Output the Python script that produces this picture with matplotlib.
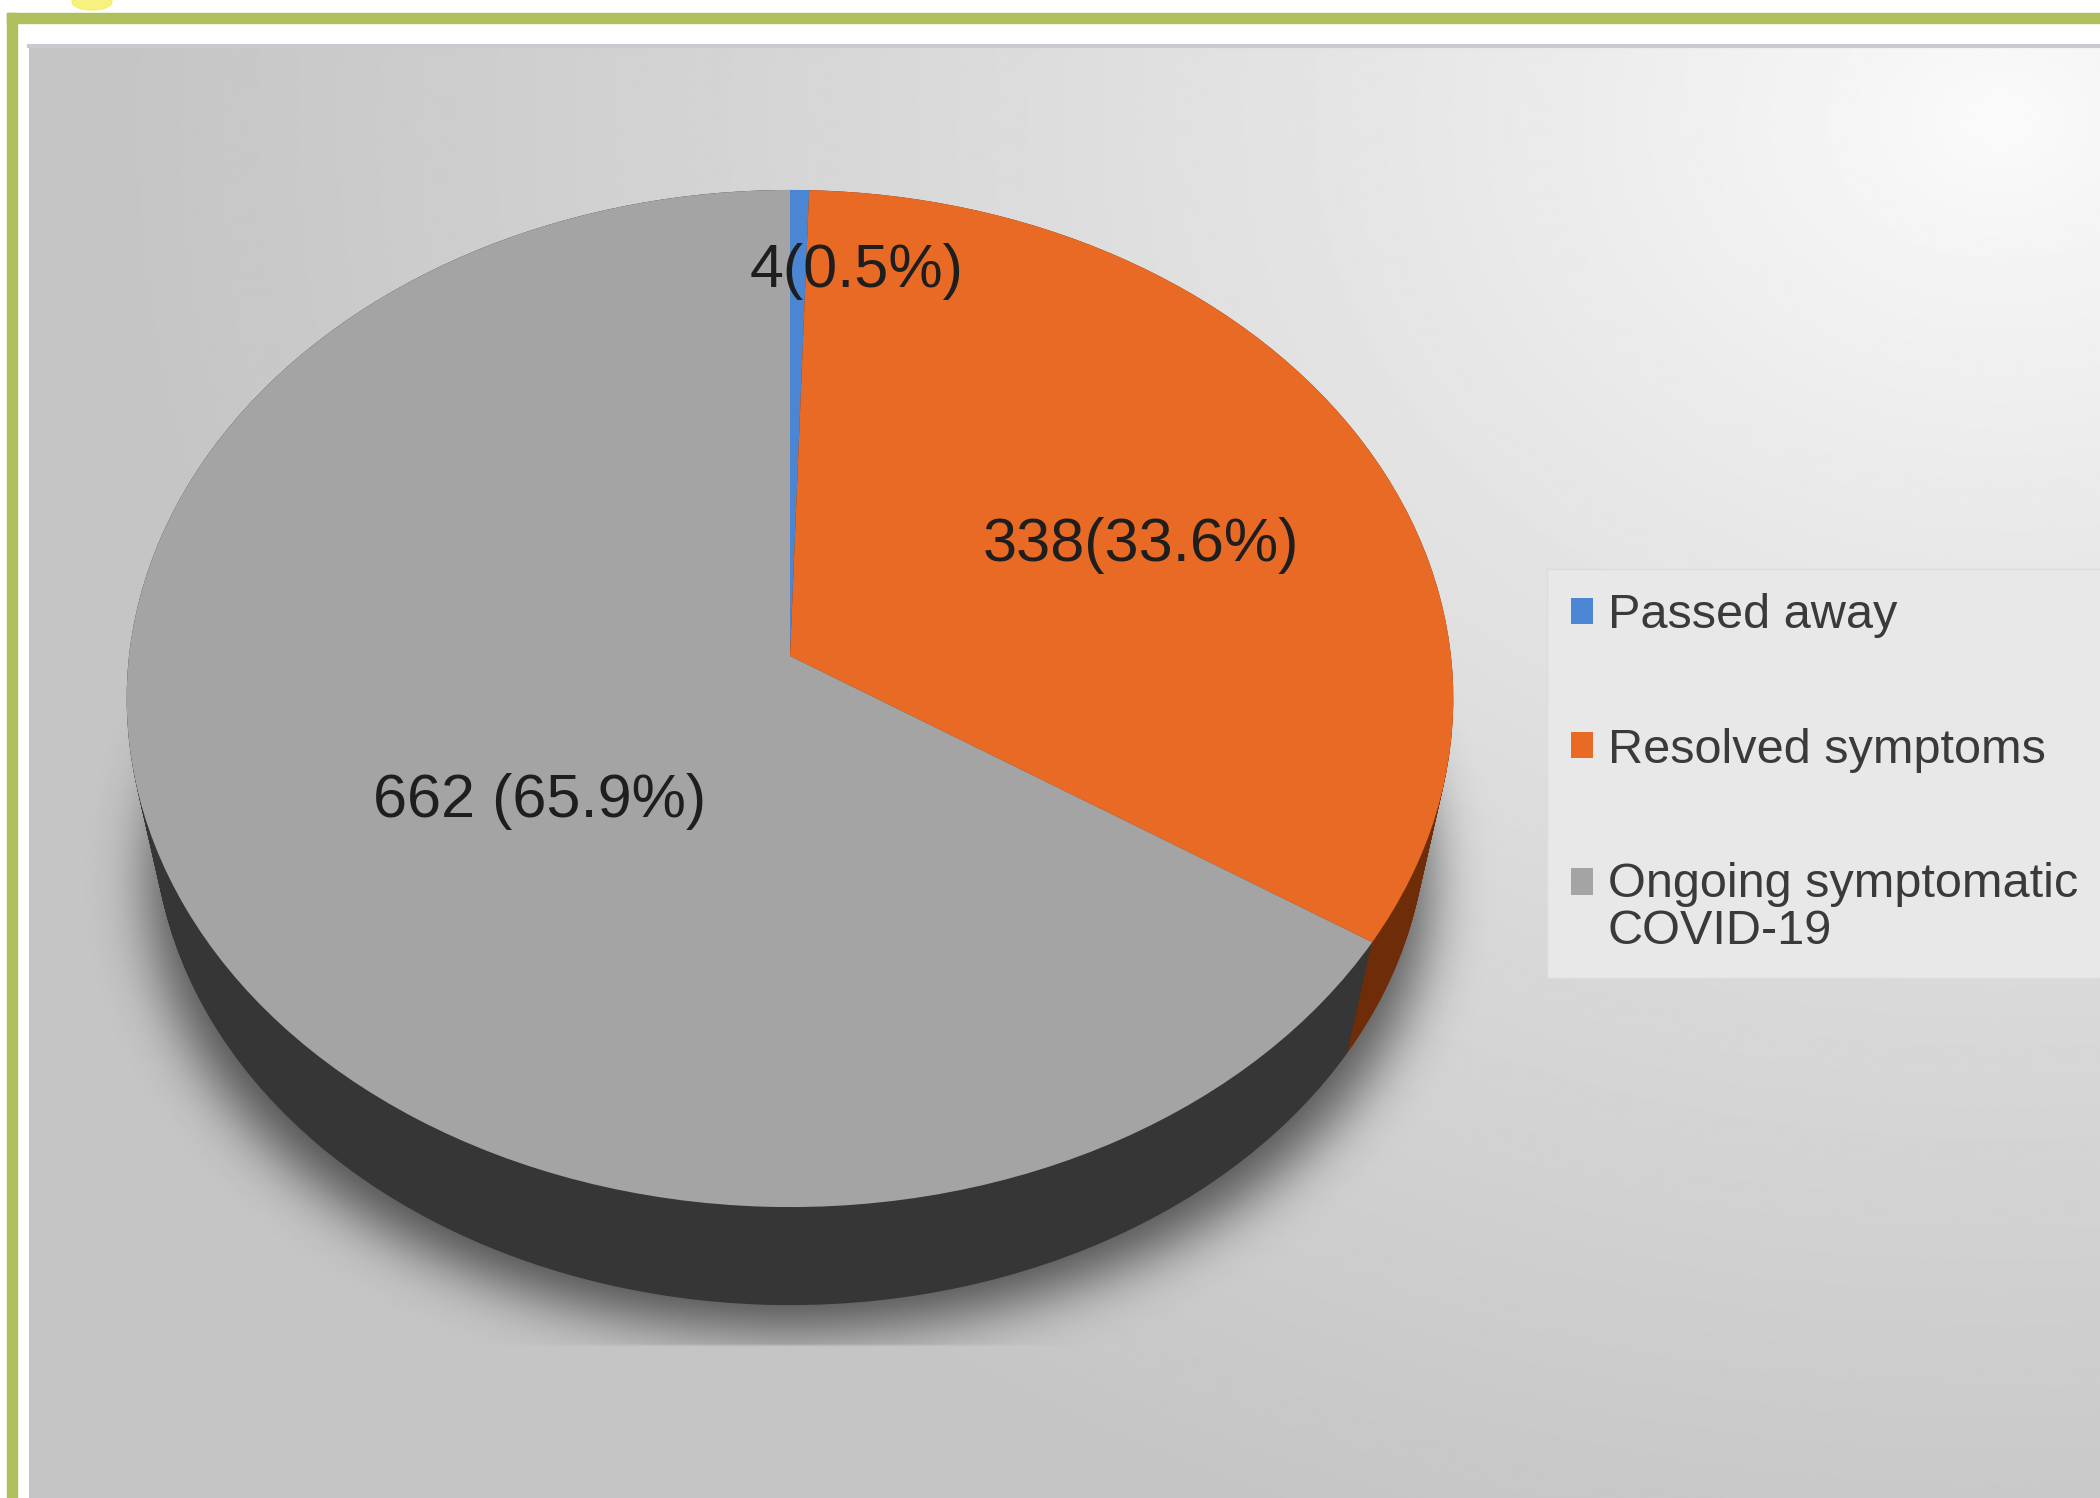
import numpy as np
import matplotlib.pyplot as plt
from matplotlib.patches import Rectangle, Ellipse
from matplotlib.transforms import Transform, Affine2D
from matplotlib.legend_handler import HandlerPatch

plt.rcParams['font.family'] = ['Liberation Sans', 'DejaVu Sans']

# outcome groups
categories = ['Passed away', 'Resolved symptoms', 'Ongoing symptomatic\nCOVID-19']
counts = [4, 338, 662]
percents = [0.5, 33.6, 65.9]
slice_labels = ['%d(%.1f%%)' % (counts[0], percents[0]),
                '%d(%.1f%%)' % (counts[1], percents[1]),
                '%d (%.1f%%)' % (counts[2], percents[2])]

top_colors = ['#4a86d4', '#e86a25', '#a4a4a4']
side_colors = ['#2c4f80', '#6e2d08', '#363636']

W, H = 2100, 1498
fig = plt.figure(figsize=(W / 100, H / 100), dpi=100)


class Perspective(Transform):
    """Tilted-disc view: unit circle -> pixel coords, far side squeezed."""
    input_dims = output_dims = 2

    def __init__(self, cx, cy, sx, sy, tilt):
        super().__init__()
        self.cx, self.cy, self.sx, self.sy, self.tilt = cx, cy, sx, sy, tilt

    def transform_non_affine(self, values):
        xy = np.asarray(values, dtype=float)
        w = 1 + self.tilt * xy[:, 1]
        return np.column_stack([self.cx + self.sx * xy[:, 0] / w,
                                self.cy + self.sy * xy[:, 1] / w])


def blur(a, s):
    r = int(3 * s)
    k = np.exp(-0.5 * (np.arange(-r, r + 1) / s) ** 2)
    k /= k.sum()
    a = np.apply_along_axis(lambda v: np.convolve(v, k, mode='same'), 0, a)
    return np.apply_along_axis(lambda v: np.convolve(v, k, mode='same'), 1, a)


# --- frame and shaded backdrop ---
x0, y0 = 29, 45   # top-left corner of the shaded area
bg = fig.add_axes([0, 0, 1, 1])
bg.set_xlim(0, W)
bg.set_ylim(H, 0)
bg.axis('off')
bg.add_patch(Rectangle((0, 0), W, H, color='white', zorder=0))
bg.add_patch(Rectangle((7, 13), W, 10, color='#aebf5e', zorder=3))
bg.add_patch(Rectangle((7, 13), 10, H, color='#aebf5e', zorder=3))
bg.add_patch(Ellipse((92, 2), 40, 16, color='#f5ee60', alpha=0.8, zorder=4))

step = 3
xs = np.arange(x0, W, step)
ys = np.arange(y0, H, step)
xx, yy = np.meshgrid(xs, ys)
d = np.sqrt((xx - 2000.0) ** 2 + ((yy - 120.0) * 1.25) ** 2)
shade = 0.985 - 0.215 * np.clip(d / 1900.0, 0, 1) ** 0.85
bg.imshow(shade, cmap='gray', vmin=0, vmax=1, extent=(x0, W, H, y0),
          aspect='auto', interpolation='bilinear', zorder=1)
bg.plot([x0, W], [y0 + 1, y0 + 1], color='#c9c9cf', lw=3, zorder=2)

# blurred drop shadow, cut off by the floor edge
sil = (((xx - 790) / 640.0) ** 2 + ((yy - 880) / 450.0) ** 2 <= 1).astype(float)
sh = blur(sil, 28 / step) * 0.6
sh[yy > 1345] = 0
rgba = np.zeros(sh.shape + (4,))
rgba[..., 3] = sh
bg.imshow(rgba, extent=(x0, W, H, y0), aspect='auto', interpolation='bilinear', zorder=2)

# --- 3-D pie, pixel coordinates with y pointing up ---
pa = fig.add_axes([0, 0, 1, 1])
pa.patch.set_alpha(0)

persp = Perspective(cx=790, cy=H - 656, sx=661, sy=505, tilt=0.0836)
drop = 122          # base sits this many pixels below the top face
base_scale = 0.96   # base looks slightly smaller

# side wall: stacked copies of the pie in darker tones
for t in np.linspace(1, 0, 60):
    layer, _ = pa.pie(percents, colors=side_colors, startangle=90, counterclock=False,
                      wedgeprops=dict(linewidth=0))
    tr = (Affine2D().scale(1 - t * (1 - base_scale)) + persp
          + Affine2D().translate(0, -t * drop) + pa.transData)
    for w in layer:
        w.set_transform(tr)

wedges, _ = pa.pie(percents, colors=top_colors, startangle=90, counterclock=False,
                   wedgeprops=dict(linewidth=0))
for w in wedges:
    w.set_transform(persp + pa.transData)

label_pos = [(857, H - 272), (1141, H - 546), (540, H - 801)]
for txt, (lx, ly) in zip(slice_labels, label_pos):
    pa.text(lx, ly, txt, ha='center', va='center', fontsize=44, color='#1e1e1e', zorder=10)

pa.set_aspect('auto')
pa.set_xlim(0, W)
pa.set_ylim(0, H)
pa.axis('off')


def first_line_square(legend, orig_handle, xdescent, ydescent, width, height, fontsize):
    # keep the key beside the first line of a wrapped label
    return Rectangle((-xdescent, -ydescent + 0.55 * fontsize), width, height)


leg = pa.legend(wedges, categories, loc='upper left',
                bbox_to_anchor=(1547 / W, 1 - 569 / H), bbox_transform=fig.transFigure,
                borderaxespad=0, fontsize=35, frameon=True, fancybox=False, framealpha=1,
                facecolor='#e8e8e8', edgecolor='#dcdcdc',
                handlelength=0.45, handleheight=0.45, handletextpad=0.3,
                labelspacing=1.84, borderpad=0.5,
                handler_map={wedges[2]: HandlerPatch(patch_func=first_line_square)})
for t in leg.get_texts():
    t.set_color('#3a3a3a')
    t.set_linespacing(1.05)

fig.savefig('out.png', dpi=100)
